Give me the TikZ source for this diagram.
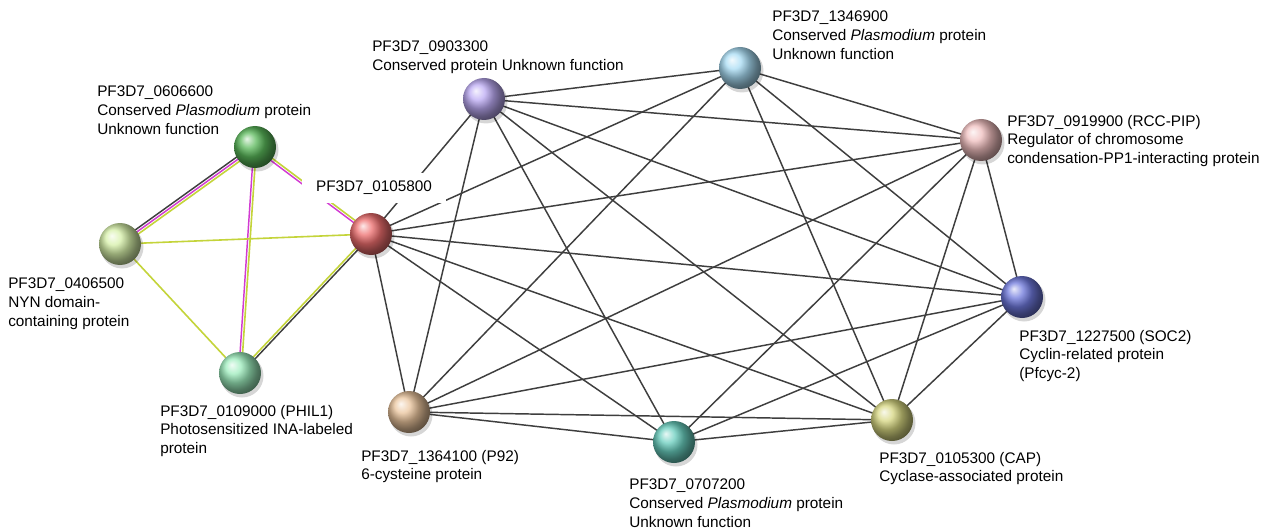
\documentclass[tikz,border=0pt]{standalone}
\usepackage{fontspec}
\setmainfont{Liberation Sans}
\usetikzlibrary{calc}
\definecolor{edgegray}{RGB}{62,62,62}
\definecolor{tmine}{RGB}{196,212,58}
\definecolor{expmag}{RGB}{210,58,210}
\definecolor{cgreen}{RGB}{90,185,90}
\definecolor{clgreen}{RGB}{214,240,168}
\definecolor{cmint}{RGB}{156,236,188}
\definecolor{cred}{RGB}{238,110,110}
\definecolor{cpurple}{RGB}{188,170,244}
\definecolor{cblue}{RGB}{168,220,244}
\definecolor{cpink}{RGB}{240,190,190}
\definecolor{cnavy}{RGB}{110,120,220}
\definecolor{colive}{RGB}{214,214,128}
\definecolor{cteal}{RGB}{104,206,190}
\definecolor{ctan}{RGB}{234,196,156}
\tikzset{
  edge/.style={draw=edgegray, line width=1.1pt},
  tm/.style={draw=tmine, line width=1.2pt},
  ex/.style={draw=expmag, line width=1.1pt},
  co/.style={draw=edgegray, line width=1.1pt},
  ball/.style={circle, minimum size=31.5pt, inner sep=0pt, shading=ball},
  lbl/.style={anchor=north west, align=left, inner sep=0pt, font=\fontsize{11.5}{13.9}\selectfont},
}
\newcommand{\parline}[4]{\draw[#1] ($(#2)!#4!90:(#3)$) -- ($(#3)!#4!-90:(#2)$);}
\begin{document}
\begin{tikzpicture}[x=0.75pt,y=-0.75pt]
\path[use as bounding box] (0,0) rectangle (1273,531);
\fill[white] (0,0) rectangle (1273,531);
% centres
\coordinate (g) at (255,147);
\coordinate (lg) at (120,244);
\coordinate (mi) at (240,373);
\coordinate (r) at (371,234);
\coordinate (pu) at (484,99);
\coordinate (lb) at (740,68);
\coordinate (pk) at (981,140);
\coordinate (bl) at (1022,297);
\coordinate (ol) at (892,420);
\coordinate (te) at (674,442);
\coordinate (ta) at (409,412);
% right cluster edges
\foreach \a/\b in {r/pu,r/lb,r/pk,r/bl,r/ol,r/te,r/ta,
  pu/lb,pu/pk,pu/bl,pu/ol,pu/te,pu/ta,
  lb/pk,lb/bl,lb/ol,lb/ta,
  pk/bl,pk/ol,pk/te,pk/ta,
  bl/ol,bl/te,bl/ta,
  ol/te,ol/ta,
  te/ta}
  \draw[edge] (\a) -- (\b);
% left cluster edges
\parline{co}{g}{lg}{-1.9pt}
\parline{ex}{g}{lg}{0pt}
\parline{tm}{g}{lg}{1.9pt}
\parline{ex}{g}{mi}{-0.95pt}
\parline{tm}{g}{mi}{0.95pt}
\parline{tm}{g}{r}{0.95pt}
\parline{ex}{g}{r}{-0.95pt}
\parline{tm}{mi}{r}{0.95pt}
\parline{co}{mi}{r}{-0.95pt}
\draw[tm] (lg) -- (r);
\draw[tm] (lg) -- (mi);
% label over edges
\node[lbl, anchor=center, fill=white, minimum width=108pt, minimum height=23pt] (l0105800) at (374,188) {PF3D7\_0105800};
% balls
\foreach \c/\col/\n in {g/cgreen/bg, lg/clgreen/blg, mi/cmint/bmi, r/cred/br, pu/cpurple/bpu, lb/cblue/blb, pk/cpink/bpk, bl/cnavy/bbl, ol/colive/bol, te/cteal/bte, ta/ctan/bta}{
  \fill[black, opacity=0.16] ($(\c)+(2,3)$) circle (21.5);
  \node[ball, ball color=\col] (\n) at (\c) {};
}
% labels
\node[lbl] (l0606) at (97,86) {PF3D7\_0606600\\Conserved \textit{Plasmodium} protein\\Unknown function};
\node[lbl] (l0903) at (372,41) {PF3D7\_0903300\\Conserved protein Unknown function};
\node[lbl] (l1346) at (772,11) {PF3D7\_1346900\\Conserved \textit{Plasmodium} protein\\Unknown function};
\node[lbl] (l0919) at (1007,115) {PF3D7\_0919900 (RCC-PIP)\\Regulator of chromosome\\condensation-PP1-interacting protein};
\node[lbl] (l0406) at (8,278) {PF3D7\_0406500\\NYN domain-\\containing protein};
\node[lbl] (l1227) at (1019,330) {PF3D7\_1227500 (SOC2)\\Cyclin-related protein\\(Pfcyc-2)};
\node[lbl] (l0109) at (160,405) {PF3D7\_0109000 (PHIL1)\\Photosensitized INA-labeled\\protein};
\node[lbl] (l1364) at (361,450) {PF3D7\_1364100 (P92)\\6-cysteine protein};
\node[lbl] (l0707) at (629,479) {PF3D7\_0707200\\Conserved \textit{Plasmodium} protein\\Unknown function};
\node[lbl] (l0105300) at (879,452) {PF3D7\_0105300 (CAP)\\Cyclase-associated protein};
\end{tikzpicture}
\end{document}
